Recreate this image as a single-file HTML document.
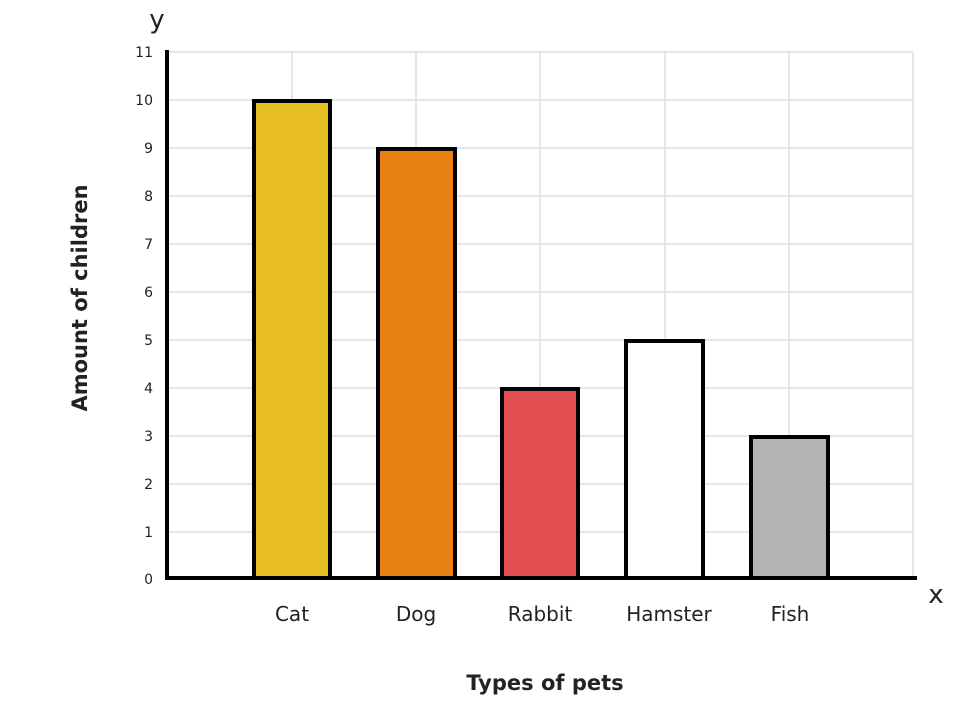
<!DOCTYPE html>
<html><head><style>body{margin:0;background:#fff}svg{display:block}</style></head><body>
<svg width="980" height="709" xmlns="http://www.w3.org/2000/svg" font-family="'DejaVu Sans','Liberation Sans',sans-serif">
<g stroke="#dddddd" stroke-width="1.5">
<line x1="167" y1="52" x2="913" y2="52"/><line x1="167" y1="100" x2="913" y2="100"/><line x1="167" y1="148" x2="913" y2="148"/><line x1="167" y1="196" x2="913" y2="196"/><line x1="167" y1="244" x2="913" y2="244"/><line x1="167" y1="292" x2="913" y2="292"/><line x1="167" y1="340" x2="913" y2="340"/><line x1="167" y1="388" x2="913" y2="388"/><line x1="167" y1="436" x2="913" y2="436"/><line x1="167" y1="484" x2="913" y2="484"/><line x1="167" y1="532" x2="913" y2="532"/>
<line x1="292" y1="52" x2="292" y2="578"/><line x1="416" y1="52" x2="416" y2="578"/><line x1="540" y1="52" x2="540" y2="578"/><line x1="665" y1="52" x2="665" y2="578"/><line x1="789" y1="52" x2="789" y2="578"/><line x1="913" y1="52" x2="913" y2="578"/>
</g>
<g stroke="#000" stroke-width="4">
<rect x="254" y="101" width="76" height="477" fill="#e8c024"/>
<rect x="378" y="149" width="77" height="429" fill="#e98112"/>
<rect x="502" y="389" width="76" height="189" fill="#e25053"/>
<rect x="626" y="341" width="77" height="237" fill="#fff"/>
<rect x="751" y="437" width="77" height="141" fill="#b3b3b3"/>
</g>
<line x1="167" y1="50" x2="167" y2="580" stroke="#000" stroke-width="4"/>
<line x1="165" y1="578" x2="917" y2="578" stroke="#000" stroke-width="4"/>
<g font-size="14" text-anchor="end" fill="#222">
<text x="153" y="57">11</text><text x="153" y="105">10</text><text x="153" y="153">9</text><text x="153" y="201">8</text><text x="153" y="249">7</text><text x="153" y="297">6</text><text x="153" y="345">5</text><text x="153" y="393">4</text><text x="153" y="441">3</text><text x="153" y="489">2</text><text x="153" y="537">1</text><text x="153" y="584">0</text>
</g>
<g font-size="20" text-anchor="middle" fill="#222">
<text x="292" y="621">Cat</text><text x="416" y="621">Dog</text><text x="540" y="621">Rabbit</text><text x="669" y="621">Hamster</text><text x="790" y="621">Fish</text>
</g>
<text x="157" y="28" font-size="26" text-anchor="middle" fill="#222">y</text>
<text x="936" y="603" font-size="26" text-anchor="middle" fill="#222">x</text>
<text x="545" y="690" font-size="21" font-weight="bold" text-anchor="middle" fill="#222">Types of pets</text>
<text transform="translate(87,298) rotate(-90)" font-size="21" font-weight="bold" text-anchor="middle" fill="#222">Amount of children</text>
</svg>
</body></html>
